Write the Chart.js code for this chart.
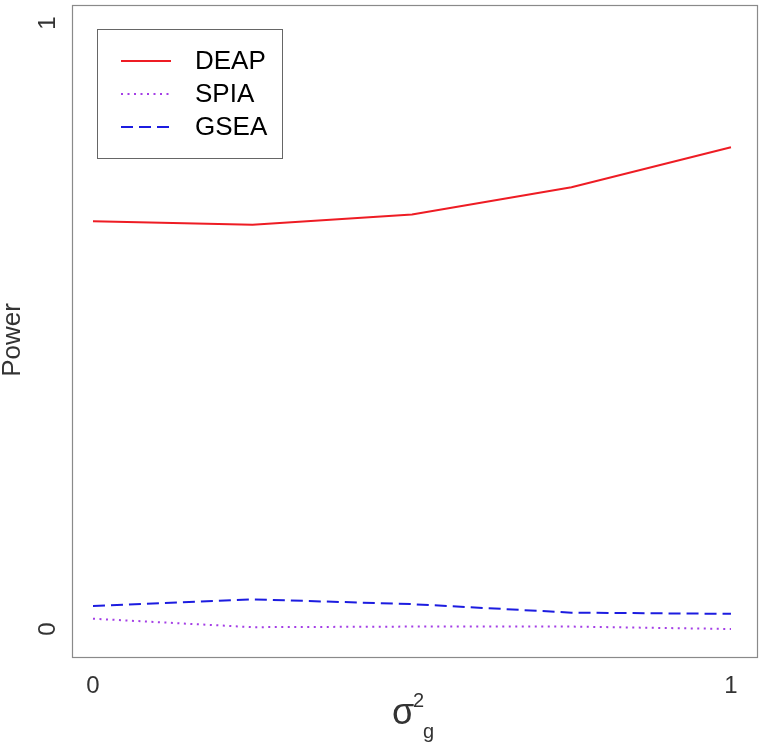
<!DOCTYPE html>
<html>
<head>
<meta charset="utf-8">
<script src="https://cdn.jsdelivr.net/npm/chart.js@4/dist/chart.umd.min.js"></script>
<style>
    html, body { margin: 0; padding: 0; background: #fff; }
    #wrap { width: 762px; height: 743px; }
</style>
</head>
<body>
<div id="wrap"><canvas id="powerChart" width="762" height="743"></canvas></div>
<script>
// Power vs sigma^2_g data
const sigmaValues = [0, 0.25, 0.5, 0.75, 1];
const deapPower = [0.673, 0.667, 0.684, 0.729, 0.795];
const spiaPower = [0.017, 0.003, 0.004, 0.004, 0.0];
const gseaPower = [0.038, 0.049, 0.041, 0.027, 0.025];

const xTicks = [0, 1];
const yTicks = [0, 1];
const seriesLabels = ['DEAP', 'SPIA', 'GSEA'];

const toPoints = (vals) => vals.map((v, i) => ({ x: sigmaValues[i], y: v }));

// Box, tick labels, axis titles and legend (R base graphics look)
const rDecorations = {
    id: 'rDecorations',
    afterDraw(chart) {
        const ctx = chart.ctx;
        const area = chart.chartArea;
        const xs = chart.scales.x;
        const ys = chart.scales.y;

        ctx.save();
        // plot frame
        ctx.strokeStyle = '#8a8a8a';
        ctx.lineWidth = 1.2;
        ctx.strokeRect(area.left + 0.5, area.top + 0.5, area.right - area.left, area.bottom - area.top);

        ctx.fillStyle = '#333';
        ctx.font = '24px "Liberation Sans", Arial, sans-serif';
        ctx.textAlign = 'center';
        ctx.textBaseline = 'middle';
        xTicks.forEach(t => {
            ctx.fillText(String(t), xs.getPixelForValue(t), 686);
        });
        yTicks.forEach(t => {
            ctx.save();
            ctx.translate(48, ys.getPixelForValue(t));
            ctx.rotate(-Math.PI / 2);
            ctx.fillText(String(t), 0, 0);
            ctx.restore();
        });

        // y title
        ctx.save();
        ctx.translate(13, 340);
        ctx.rotate(-Math.PI / 2);
        ctx.font = '26px "Liberation Sans", Arial, sans-serif';
        ctx.fillText('Power', 0, 0);
        ctx.restore();

        // x title: sigma^2 with subscript g
        const cx = (xs.getPixelForValue(0) + xs.getPixelForValue(1)) / 2;
        ctx.textAlign = 'left';
        ctx.textBaseline = 'alphabetic';
        ctx.font = '36px "Liberation Sans", Arial, sans-serif';
        ctx.fillText('σ', cx - 20, 724);
        ctx.font = '20px "Liberation Sans", Arial, sans-serif';
        ctx.fillText('2', cx + 1, 707);
        ctx.fillText('g', cx + 11, 738);

        // legend
        ctx.strokeStyle = '#666';
        ctx.lineWidth = 1;
        ctx.strokeRect(97.5, 29.5, 185, 129);
        const ds = chart.data.datasets;
        const rowY = [61, 94, 127];
        ctx.font = '26px "Liberation Sans", Arial, sans-serif';
        ctx.textBaseline = 'middle';
        ds.forEach((d, i) => {
            ctx.beginPath();
            ctx.strokeStyle = d.borderColor;
            ctx.lineWidth = d.borderWidth;
            ctx.setLineDash(d.borderDash || []);
            ctx.moveTo(121, rowY[i]);
            ctx.lineTo(171, rowY[i]);
            ctx.stroke();
            ctx.setLineDash([]);
            ctx.fillStyle = '#000';
            ctx.fillText(seriesLabels[i], 195, rowY[i] + 1);
        });
        ctx.restore();
    }
};

new Chart(document.getElementById('powerChart'), {
    type: 'line',
    data: {
        datasets: [
            {
                label: seriesLabels[0],
                data: toPoints(deapPower),
                borderColor: '#ee1c24',
                borderWidth: 2,
                pointRadius: 0,
                tension: 0
            },
            {
                label: seriesLabels[1],
                data: toPoints(spiaPower),
                borderColor: '#a43ee6',
                borderWidth: 2,
                borderDash: [2, 4.5],
                pointRadius: 0,
                tension: 0
            },
            {
                label: seriesLabels[2],
                data: toPoints(gseaPower),
                borderColor: '#1c1ce0',
                borderWidth: 2,
                borderDash: [12, 6],
                pointRadius: 0,
                tension: 0
            }
        ]
    },
    options: {
        responsive: false,
        animation: false,
        devicePixelRatio: 1,
        layout: { padding: { left: 72, top: 5, right: 5, bottom: 86 } },
        plugins: {
            legend: { display: false },
            tooltip: { enabled: false }
        },
        scales: {
            x: { type: 'linear', display: false, min: -0.0329, max: 1.0408 },
            y: { type: 'linear', display: false, min: -0.0462, max: 1.0297 }
        }
    },
    plugins: [rDecorations]
});
</script>
</body>
</html>
